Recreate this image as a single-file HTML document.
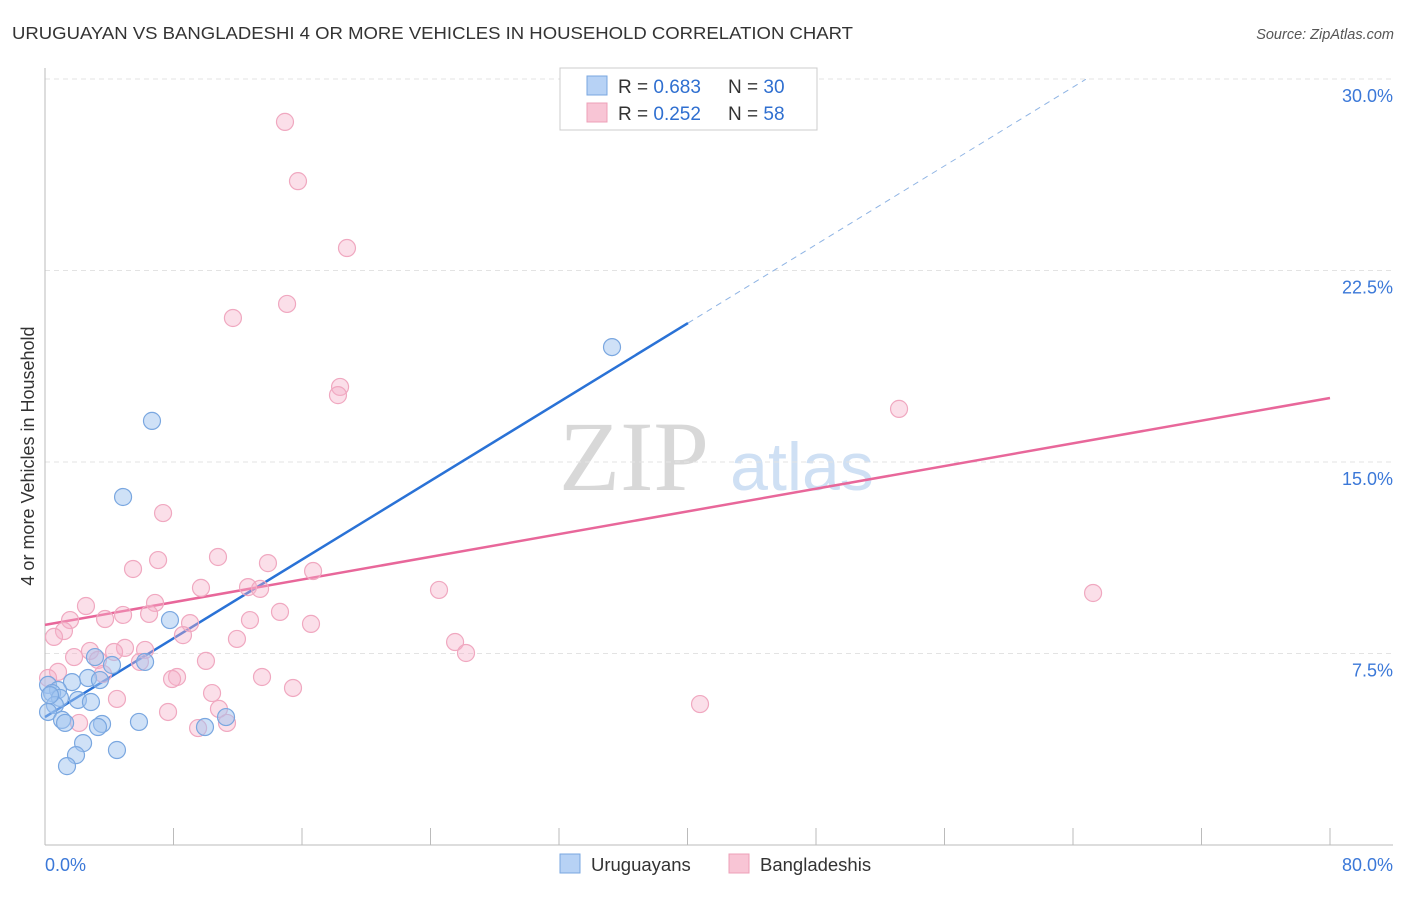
<!DOCTYPE html>
<html><head><meta charset="utf-8"><style>
body{margin:0;background:#fff;font-family:"Liberation Sans",sans-serif;}
svg text{font-family:"Liberation Sans",sans-serif;}
</style></head><body>
<svg width="1406" height="892" xmlns="http://www.w3.org/2000/svg">
<text x="12" y="39" font-size="17.5" fill="#333" textLength="841" lengthAdjust="spacingAndGlyphs">URUGUAYAN VS BANGLADESHI 4 OR MORE VEHICLES IN HOUSEHOLD CORRELATION CHART</text>
<text x="1394" y="39" font-size="14.5" fill="#555" font-style="italic" text-anchor="end">Source: ZipAtlas.com</text>
<text transform="translate(34,456) rotate(-90)" font-size="18" fill="#333" text-anchor="middle">4 or more Vehicles in Household</text>
<g>
<text x="634" y="490" font-size="100" style="font-family:'Liberation Serif',serif" fill="#d8d8d8" text-anchor="middle">ZIP</text>
<text x="802" y="490" font-size="68" fill="#cfe0f4" text-anchor="middle">atlas</text>
</g>
<g id="grid"></g>
<g id="axes"></g>
<g id="lines"></g>
<g id="pts"></g>
<g>
<rect x="560" y="68" width="257" height="62" fill="#fff" stroke="#ccc"/>
<rect x="587" y="76" width="20" height="19" fill="#b7d2f5" stroke="#7aa7e0"/>
<rect x="587" y="103" width="20" height="19" fill="#f8c5d5" stroke="#eea0b8"/>
<text x="618" y="93" font-size="19" fill="#333">R = <tspan fill="#2f6fd0">0.683</tspan><tspan x="728">N = </tspan><tspan fill="#2f6fd0">30</tspan></text>
<text x="618" y="120" font-size="19" fill="#333">R = <tspan fill="#2f6fd0">0.252</tspan><tspan x="728">N = </tspan><tspan fill="#2f6fd0">58</tspan></text>
</g>
<g>
<rect x="560" y="854" width="20" height="19" fill="#b7d2f5" stroke="#7aa7e0"/>
<text x="591" y="871" font-size="18.5" fill="#333">Uruguayans</text>
<rect x="729" y="854" width="20" height="19" fill="#f8c5d5" stroke="#eea0b8"/>
<text x="760" y="871" font-size="18.5" fill="#333">Bangladeshis</text>
</g>
</svg>
<script>
const blueX=[35.30,6.66,4.86,7.78,3.11,6.23,4.17,2.68,3.42,1.68,0.19,0.81,0.44,0.93,2.05,2.86,0.62,0.19,1.06,1.25,3.55,3.30,5.85,9.96,11.27,2.37,1.93,4.48,1.37,0.31];
const blueY=[19.50,16.61,13.63,8.81,7.36,7.17,7.05,6.54,6.46,6.38,6.27,6.07,5.95,5.76,5.68,5.60,5.48,5.21,4.90,4.78,4.74,4.62,4.82,4.62,5.01,3.99,3.52,3.72,3.09,5.87];
const pinkX=[14.94,15.75,18.80,15.07,11.70,18.37,18.24,53.17,7.35,7.04,5.48,10.77,13.88,16.69,24.53,65.25,9.71,12.64,13.39,6.85,2.55,4.86,6.48,3.74,1.56,14.63,12.76,16.56,9.03,1.18,0.56,8.59,11.95,25.53,26.21,2.80,4.98,6.23,4.30,1.81,10.02,3.30,5.91,0.81,8.22,7.91,13.51,3.61,0.19,15.44,10.40,4.48,10.83,40.78,7.66,2.12,9.53,11.33];
const pinkY=[28.32,26.00,23.38,21.19,20.64,17.94,17.62,17.08,13.00,11.16,10.81,11.28,11.04,10.73,9.99,9.87,10.07,10.10,10.03,9.48,9.36,9.01,9.05,8.85,8.81,9.13,8.81,8.66,8.69,8.38,8.15,8.22,8.07,7.95,7.52,7.60,7.72,7.64,7.56,7.36,7.21,7.25,7.17,6.78,6.58,6.50,6.58,6.70,6.54,6.15,5.95,5.72,5.33,5.52,5.21,4.78,4.58,4.78];
const yTicks=[7.5,15,22.5,30];
const yTickLabels=["7.5%","15.0%","22.5%","30.0%"];
const xTicks=[0,8,16,24,32,40,48,56,64,72,80];
const blueLine=[5.01,0.3855,40.03,64.8];
const pinkLine=[8.62,0.1111,80];
const NS="http://www.w3.org/2000/svg";
const sx=v=>45+v*1285/80, sy=v=>845-v*766/30;
function mk(t,a,p){const e=document.createElementNS(NS,t);for(const k in a)e.setAttribute(k,a[k]);p.appendChild(e);return e;}
const grid=document.getElementById('grid'),axes=document.getElementById('axes'),lines=document.getElementById('lines'),pts=document.getElementById('pts');
yTicks.forEach((t,i)=>{
 const l=mk('line',{x1:45,x2:1393,y1:sy(t),y2:sy(t),stroke:'#e3e3e3','stroke-dasharray':'5,4'},grid);
 
 
 const tx=mk('text',{x:1393,y:sy(t)+23,'font-size':18,fill:'#3b78d8','text-anchor':'end'},grid);tx.textContent=yTickLabels[i];
 
 
});
const ax=mk('line',{x1:45,x2:45,y1:68,y2:845,stroke:'#bbb'},axes);


const bx=mk('line',{x1:45,x2:1393,y1:845,y2:845,stroke:'#bbb'},axes);


xTicks.forEach(t=>{const l=mk('line',{x1:sx(t),x2:sx(t),y1:828,y2:845,stroke:'#bbb'},axes);
 
 });
[["0.0%",45,'start'],["80.0%",1393,'end']].forEach(([s,x,a])=>{const t=mk('text',{x:x,y:871,'font-size':18,fill:'#3b78d8','text-anchor':a},axes);t.textContent=s;
 
 });
const bl=mk('line',{x1:sx(0),y1:sy(blueLine[0]),x2:sx(blueLine[2]),y2:sy(blueLine[0]+blueLine[1]*blueLine[2]),stroke:'#2a72d6','stroke-width':2.5},lines);


const bd=mk('line',{x1:sx(blueLine[2]),y1:sy(blueLine[0]+blueLine[1]*blueLine[2]),x2:sx(blueLine[3]),y2:sy(blueLine[0]+blueLine[1]*blueLine[3]),stroke:'#8fb4e4','stroke-width':1,'stroke-dasharray':'6,5'},lines);


const pl=mk('line',{x1:sx(0),y1:sy(pinkLine[0]),x2:sx(pinkLine[2]),y2:sy(pinkLine[0]+pinkLine[1]*pinkLine[2]),stroke:'#e8679a','stroke-width':2.5},lines);


pinkX.forEach((x,i)=>{const c=mk('circle',{cx:sx(x),cy:sy(pinkY[i]),r:8.5,fill:'rgba(246,175,200,0.4)',stroke:'#f0a8c0','stroke-width':1.2},pts);
 
 });
blueX.forEach((x,i)=>{const c=mk('circle',{cx:sx(x),cy:sy(blueY[i]),r:8.5,fill:'rgba(160,196,240,0.5)',stroke:'#7aa7e0','stroke-width':1.2},pts);
 
 });
</script>
</body></html>
